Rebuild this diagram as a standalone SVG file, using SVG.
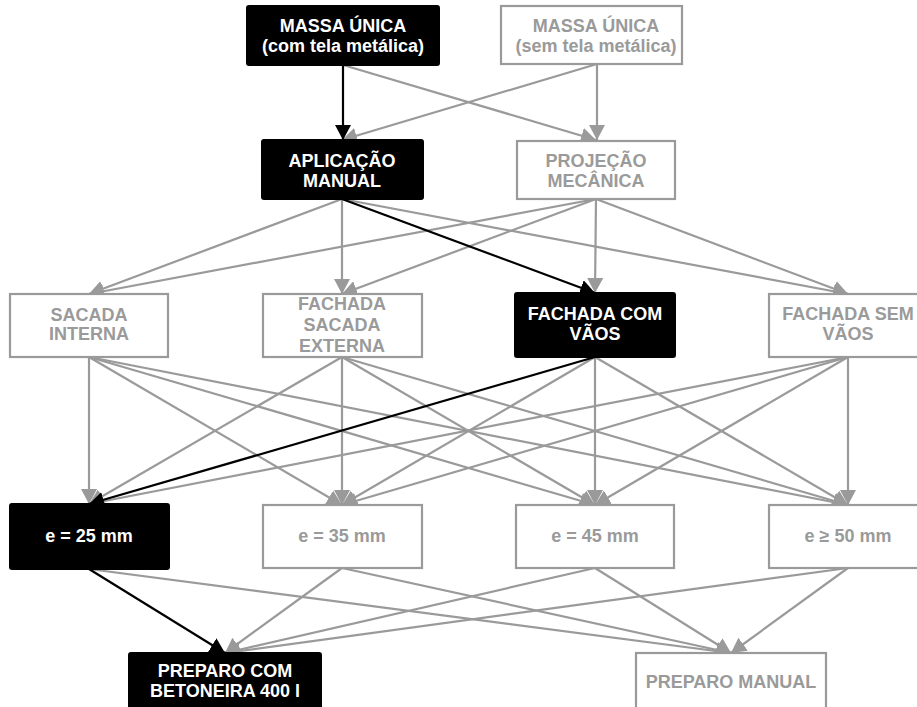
<svg xmlns="http://www.w3.org/2000/svg" width="917" height="707" viewBox="0 0 917 707">
<style>
.bk rect{fill:#000;stroke:#000;stroke-width:2}
.gy rect{fill:#fff;stroke:#9a9a9a;stroke-width:2.2}
text{font-family:"Liberation Sans",Arial,sans-serif;font-weight:bold;font-size:18px;text-anchor:middle}
.bk text{fill:#fff}
.gy text{fill:#9a9a9a}
.cg line{stroke:#9a9a9a;stroke-width:2.2;fill:none;marker-end:url(#ag)}
.cb line{stroke:#000;stroke-width:2.2;fill:none;marker-end:url(#ab)}
</style>
<defs>
<marker id="ag" markerUnits="userSpaceOnUse" markerWidth="15" markerHeight="16" refX="15" refY="8" orient="auto" viewBox="0 0 15 16"><path d="M0,0 L15,8 L0,16 z" fill="#9a9a9a"/></marker>
<marker id="ab" markerUnits="userSpaceOnUse" markerWidth="15" markerHeight="16" refX="15" refY="8" orient="auto" viewBox="0 0 15 16"><path d="M0,0 L15,8 L0,16 z" fill="#000"/></marker>
</defs>
<rect width="917" height="707" fill="#fff"/>
<g id="connectors">
<g class="cg">
<line x1="343" y1="65" x2="596" y2="140"/>
<line x1="597" y1="64" x2="342" y2="140"/>
<line x1="597" y1="64" x2="597" y2="140"/>
<line x1="342" y1="199" x2="89" y2="294"/>
<line x1="342" y1="199" x2="342" y2="294"/>
<line x1="342" y1="199" x2="848" y2="294"/>
<line x1="596" y1="199" x2="89" y2="294"/>
<line x1="596" y1="199" x2="342" y2="294"/>
<line x1="596" y1="199" x2="595" y2="293"/>
<line x1="596" y1="199" x2="848" y2="294"/>
<line x1="89" y1="357" x2="89" y2="504"/>
<line x1="89" y1="357" x2="342" y2="505"/>
<line x1="89" y1="357" x2="595" y2="505"/>
<line x1="89" y1="357" x2="848" y2="505"/>
<line x1="342" y1="357" x2="89" y2="504"/>
<line x1="342" y1="357" x2="342" y2="505"/>
<line x1="342" y1="357" x2="595" y2="505"/>
<line x1="342" y1="357" x2="848" y2="505"/>
<line x1="595" y1="357" x2="342" y2="505"/>
<line x1="595" y1="357" x2="595" y2="505"/>
<line x1="595" y1="357" x2="848" y2="505"/>
<line x1="848" y1="357" x2="89" y2="504"/>
<line x1="848" y1="357" x2="342" y2="505"/>
<line x1="848" y1="357" x2="595" y2="505"/>
<line x1="848" y1="357" x2="848" y2="505"/>
<line x1="89" y1="569" x2="731" y2="653"/>
<line x1="342" y1="568" x2="225" y2="653"/>
<line x1="342" y1="568" x2="731" y2="653"/>
<line x1="595" y1="568" x2="225" y2="653"/>
<line x1="595" y1="568" x2="731" y2="653"/>
<line x1="848" y1="568" x2="225" y2="653"/>
<line x1="848" y1="568" x2="731" y2="653"/>
</g>
<g class="cb">
<line x1="343" y1="65" x2="343" y2="140"/>
<line x1="342" y1="199" x2="595" y2="293"/>
<line x1="595" y1="357" x2="89" y2="504"/>
<line x1="89" y1="569" x2="225" y2="653"/>
</g>
</g>
<g id="n-massa-com" class="bk"><rect x="247" y="6" width="192" height="59" rx="2"/><text x="343" y="32">MASSA ÚNICA</text><text x="343" y="52">(com tela metálica)</text></g>
<g id="n-massa-sem" class="gy"><rect x="501" y="6" width="181" height="58"/><text x="596" y="32">MASSA ÚNICA</text><text x="596" y="52">(sem tela metálica)</text></g>
<g id="n-aplicacao" class="bk"><rect x="262" y="140" width="161" height="59" rx="2"/><text x="342" y="167">APLICAÇÃO</text><text x="342" y="187">MANUAL</text></g>
<g id="n-projecao" class="gy"><rect x="517" y="141" width="158" height="58"/><text x="596" y="167">PROJEÇÃO</text><text x="596" y="187">MECÂNICA</text></g>
<g id="n-sacada-interna" class="gy"><rect x="10" y="294" width="158" height="63"/><text x="89" y="321">SACADA</text><text x="89" y="340">INTERNA</text></g>
<g id="n-fachada-sacada" class="gy"><rect x="263" y="294" width="159" height="63"/><text x="342" y="310">FACHADA</text><text x="342" y="331">SACADA</text><text x="342" y="352">EXTERNA</text></g>
<g id="n-fachada-com" class="bk"><rect x="515" y="293" width="160" height="64" rx="2"/><text x="595" y="320">FACHADA COM</text><text x="595" y="340">VÃOS</text></g>
<g id="n-fachada-sem" class="gy"><rect x="769" y="294" width="158" height="63"/><text x="848" y="320">FACHADA SEM</text><text x="848" y="340">VÃOS</text></g>
<g id="n-e25" class="bk"><rect x="10" y="504" width="159" height="65" rx="2"/><text x="89" y="542">e = 25 mm</text></g>
<g id="n-e35" class="gy"><rect x="263" y="505" width="159" height="63"/><text x="342" y="542">e = 35 mm</text></g>
<g id="n-e45" class="gy"><rect x="516" y="505" width="158" height="63"/><text x="595" y="542">e = 45 mm</text></g>
<g id="n-e50" class="gy"><rect x="769" y="505" width="158" height="63"/><text x="848" y="542">e ≥ 50 mm</text></g>
<g id="n-betoneira" class="bk"><rect x="129" y="653" width="192" height="60" rx="2"/><text x="225" y="677">PREPARO COM</text><text x="225" y="697">BETONEIRA 400 l</text></g>
<g id="n-manual" class="gy"><rect x="636" y="653" width="190" height="60"/><text x="731" y="688">PREPARO MANUAL</text></g>
</svg>
